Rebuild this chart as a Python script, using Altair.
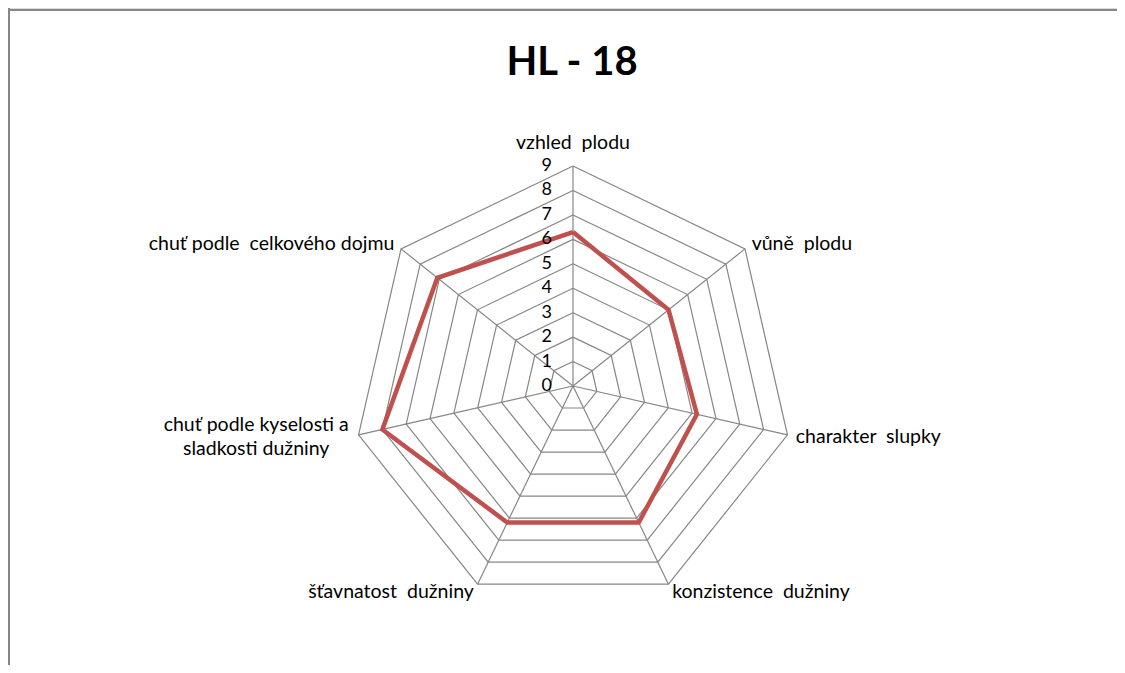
import altair as alt
import numpy as np
import pandas as pd

title_text = "HL - 18"
categories = [
    "vzhled  plodu",
    "vůně  plodu",
    "charakter  slupky",
    "konzistence  dužniny",
    "šťavnatost  dužniny",
    "chuť podle kyselosti a\nsladkosti dužniny",
    "chuť podle  celkového dojmu",
]
values = [6.3, 5.0, 5.2, 6.2, 6.2, 8.0, 7.1]
tick_levels = [0, 1, 2, 3, 4, 5, 6, 7, 8, 9]

# layout (pixels)
W, H = 1109, 657
CX, CY = 565, 378
UNIT = 24.44
FONT = "Lato"
GRID = "#868686"
LABEL_SIZE = 19.5

n = len(categories)
ang = 2 * np.pi * np.arange(n) / n
r_max = max(tick_levels)

grid_rows = []
for lv in tick_levels[1:]:
    for j in range(n + 1):
        k = j % n
        grid_rows.append({"x": lv * np.sin(ang[k]), "y": lv * np.cos(ang[k]), "level": lv, "ord": j})
grid_df = pd.DataFrame(grid_rows)

spoke_rows = []
for k in range(n):
    spoke_rows.append({"x": 0.0, "y": 0.0, "spoke": k, "ord": 0})
    spoke_rows.append({"x": r_max * np.sin(ang[k]), "y": r_max * np.cos(ang[k]), "spoke": k, "ord": 1})
spoke_df = pd.DataFrame(spoke_rows)

series_rows = []
for j in range(n + 1):
    k = j % n
    series_rows.append({"x": values[k] * np.sin(ang[k]), "y": values[k] * np.cos(ang[k]),
                        "cat": categories[k], "value": values[k], "ord": j})
series_df = pd.DataFrame(series_rows)

tick_df = pd.DataFrame({"x": [0.0] * len(tick_levels), "y": tick_levels, "t": [str(v) for v in tick_levels]})

r_lab = r_max + 0.35
lab_rows = []
for k in range(n):
    s = np.sin(ang[k])
    side = "center" if abs(s) < 0.1 else ("left" if s > 0 else "right")
    if "\n" in categories[k]:
        side = "multi"
    lab_rows.append({"x": r_lab * s, "y": r_lab * np.cos(ang[k]),
                     "label": categories[k].replace("  ", " \u00a0"), "side": side})
lab_df = pd.DataFrame(lab_rows)

xs = alt.Scale(domain=[-CX / UNIT, (W - CX) / UNIT], nice=False, zero=False)
ys = alt.Scale(domain=[-(H - CY) / UNIT, CY / UNIT], nice=False, zero=False)
X = alt.X("x:Q", scale=xs, axis=None)
Y = alt.Y("y:Q", scale=ys, axis=None)

grid = alt.Chart(grid_df).mark_line(color=GRID, strokeWidth=1.2).encode(
    x=X, y=Y, detail="level:N", order="ord:Q")
spokes = alt.Chart(spoke_df).mark_line(color=GRID, strokeWidth=1.2).encode(
    x=X, y=Y, detail="spoke:N", order="ord:Q")
series = alt.Chart(series_df).mark_line(color="#C0504D", strokeWidth=4.5, strokeJoin="miter").encode(
    x=X, y=Y, order="ord:Q")
ticks = alt.Chart(tick_df).mark_text(font=FONT, fontSize=18, align="right", baseline="middle", dx=-21, color="#000").encode(
    x=X, y=Y, text="t:N")

def lab_layer(side, **kw):
    return alt.Chart(lab_df).transform_filter(alt.datum.side == side).mark_text(
        font=FONT, fontSize=LABEL_SIZE, color="#000", lineBreak="\n", **kw).encode(x=X, y=Y, text="label:N")

lab_c = lab_layer("center", align="center", baseline="bottom", dy=-4)
lab_l = lab_layer("left", align="left", baseline="middle")
lab_r = lab_layer("right", align="right", baseline="middle")
lab_m = lab_layer("multi", align="center", baseline="middle", dx=-94, dy=-12, lineHeight=24)

one = pd.DataFrame({"a": [0]})
title = alt.Chart(one).mark_text(font=FONT, fontSize=40, fontWeight="bold", align="center",
                                 baseline="alphabetic", color="#000").encode(
    x=alt.value(564), y=alt.value(67), text=alt.value(title_text))
border_top = alt.Chart(one).mark_rule(color=GRID, strokeWidth=2).encode(
    x=alt.value(0), x2=alt.value(W), y=alt.value(2))
border_left = alt.Chart(one).mark_rule(color=GRID, strokeWidth=2).encode(
    x=alt.value(1), y=alt.value(0), y2=alt.value(H))

chart = alt.layer(border_top, border_left, grid, spokes, series, ticks, lab_c, lab_l, lab_r, lab_m, title).properties(
    width=W, height=H, autosize=alt.AutoSizeParams(type="none"), padding=0
).configure_view(stroke=None).configure(background="white")

chart.save("out.html", embed_options={"renderer": "svg", "actions": False})
